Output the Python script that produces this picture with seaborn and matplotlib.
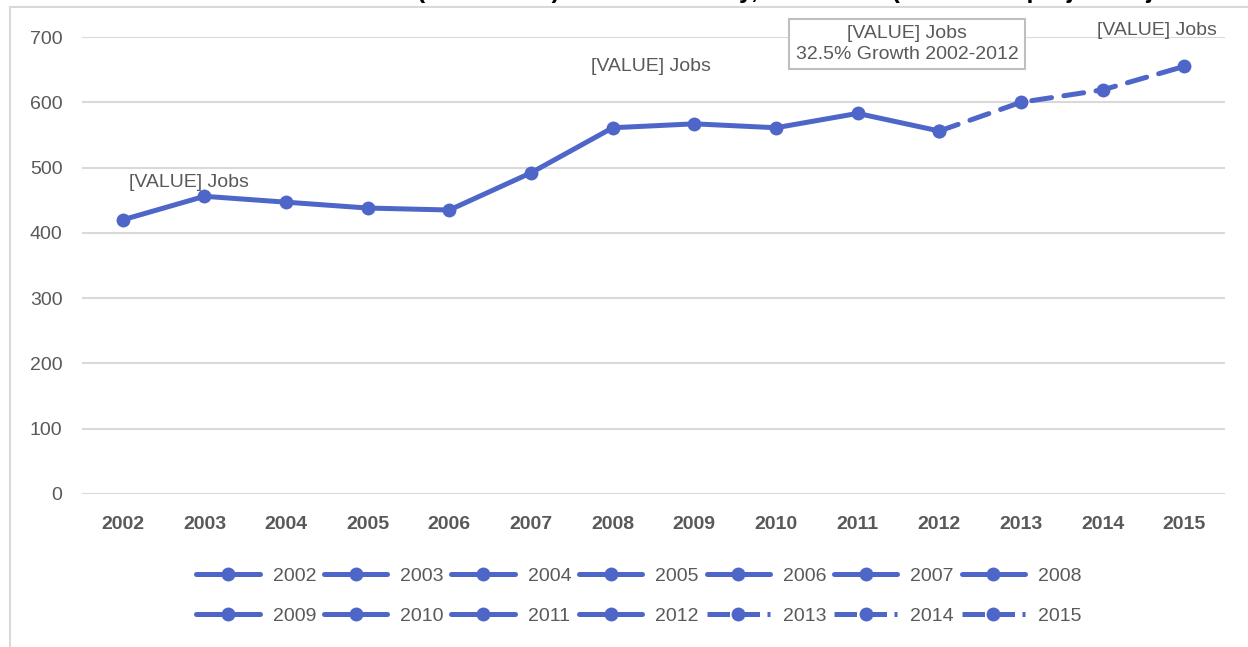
import matplotlib
matplotlib.use("Agg")
import matplotlib.pyplot as plt
import pandas as pd
import seaborn as sns
from matplotlib.lines import Line2D
from matplotlib.patches import Rectangle

# data
years = ['2002', '2003', '2004', '2005', '2006', '2007', '2008',
         '2009', '2010', '2011', '2012', '2013', '2014', '2015']
jobs = [420, 456, 447, 438, 435, 492, 561, 567, 561, 583, 556, 600, 619, 655]
projected = [False] * 11 + [True] * 3
yticks = [0, 100, 200, 300, 400, 500, 600, 700]

title = ("Restaurant and Food Service Jobs Added (NAICS 722) in Cobb County, "
         "2002-2015 (2013-2015 projected jobs as of 2012)")

blue = '#4E66C8'
gray = '#595959'

sns.set_style('white')
plt.rcParams['font.family'] = ['Liberation Sans', 'DejaVu Sans']

df = pd.DataFrame({'year': years, 'jobs': jobs, 'projected': projected})
df['pos'] = range(len(df))
actual = df[df['pos'] <= 10]
proj = df[df['pos'] >= 10]

fig = plt.figure(figsize=(12.48, 6.47), dpi=100)
ax = fig.add_axes([0.0657, 0.2365, 0.9159, 0.7063])

sns.lineplot(data=actual, x='pos', y='jobs', ax=ax, color=blue, lw=3.6,
             marker='o', markersize=10, markeredgewidth=0, legend=False,
             clip_on=False, solid_capstyle='round')
sns.lineplot(data=proj, x='pos', y='jobs', ax=ax, color=blue, lw=3.6,
             marker='o', markersize=10, markeredgewidth=0, legend=False,
             clip_on=False, dashes=(4, 2.5), dash_capstyle='round')

ax.set_xlim(-0.5, len(years) - 0.5)
ax.set_ylim(0, 700)
ax.set_yticks(yticks)
ax.set_xticks(df['pos'])
ax.set_xticklabels(years, fontsize=14, fontweight='bold', color=gray)
ax.tick_params(axis='y', labelsize=14, colors=gray, length=0, pad=14)
ax.tick_params(axis='x', length=0, pad=16)
ax.set_xlabel('')
ax.set_ylabel('')
ax.grid(axis='y', color='#D9D9D9', lw=1.5)
ax.set_axisbelow(True)
for s in ax.spines.values():
    s.set_visible(False)

# data labels
lab = dict(textcoords='offset pixels', ha='center', va='center',
           fontsize=14, color=gray)
ax.annotate('[VALUE] Jobs', (1, jobs[1]), xytext=(-16, 14), **lab)
ax.annotate('[VALUE] Jobs', (6, jobs[6]), xytext=(38, 61), **lab)
ax.annotate('[VALUE] Jobs\n32.5% Growth 2002-2012', (10, jobs[10]),
            xytext=(-32, 87), linespacing=1.25,
            bbox=dict(boxstyle='square,pad=0.35', fc='white', ec='#BFBFBF', lw=1.5),
            **lab)
ax.annotate('[VALUE] Jobs', (13, jobs[13]), xytext=(-27, 36), **lab)

# legend: one entry per year, filled row by row
handles = []
for y, p in zip(years, projected):
    handles.append(Line2D([], [], color=blue, lw=3.6, marker='o', markersize=10,
                          markeredgewidth=0, ls=(0, (4.5, 1.5)) if p else '-',
                          label=y))
order = [i for c in range(7) for i in (c, c + 7)]
fig.legend(handles=[handles[i] for i in order], ncol=7, loc='center',
           bbox_to_anchor=(0.512, 0.079), frameon=False, fontsize=14,
           labelcolor=gray, handlelength=3.25, handletextpad=0.67,
           columnspacing=0.4, labelspacing=1.15)

# chart border and clipped title
fig.patches.append(Rectangle((10 / 1248, -0.1), 1.2, 1 - 7 / 647 + 0.1,
                             transform=fig.transFigure, fill=False,
                             ec='#D9D9D9', lw=1.5))
fig.text(0.5, 1.003, title, ha='center', va='baseline', fontsize=18,
         fontweight='bold', color='black', family='Liberation Sans')

fig.savefig('out.png', dpi=100)
